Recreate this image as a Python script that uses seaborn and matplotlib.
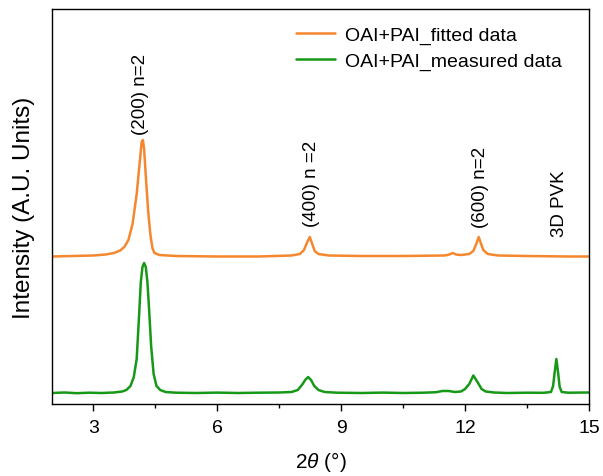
import numpy as np
import pandas as pd
import seaborn as sns
import matplotlib
matplotlib.use("Agg")
import matplotlib.pyplot as plt

# ---- data (intensity in arbitrary units) ----
fit_x = [2.0, 2.5, 3.0, 3.3, 3.5, 3.65, 3.75, 3.85, 3.95, 4.05, 4.12, 4.17, 4.20,
         4.23, 4.28, 4.33, 4.38, 4.43, 4.48, 4.6, 5.0, 6.0, 7.0, 7.8, 8.0, 8.1,
         8.18, 8.24, 8.30, 8.36, 8.45, 8.7, 9.5, 10.5, 11.5, 11.62, 11.70, 11.78,
         11.9, 12.1, 12.2, 12.27, 12.33, 12.38, 12.44, 12.55, 12.8, 13.5, 14.5, 15.0]
fit_y = [147.5, 148, 148.5, 149.5, 151, 153.5, 157, 164, 180, 210, 240, 262, 264,
         255, 222, 192, 170, 156, 151, 149, 148, 147.5, 147.5, 148.5, 150, 154,
         162, 167, 160, 153, 150, 148.5, 148, 148, 148.5, 149.5, 151, 149.5,
         149, 150, 153, 160, 167, 161, 154, 150, 148.5, 148, 147.5, 147.5]

meas_x = [2.0, 2.3, 2.6, 2.9, 3.2, 3.5, 3.7, 3.8, 3.9, 3.98, 4.05, 4.11, 4.15,
          4.19, 4.23, 4.27, 4.31, 4.35, 4.40, 4.46, 4.53, 4.62, 4.75, 5.0, 5.5,
          6.0, 6.5, 7.0, 7.5, 7.8, 7.95, 8.05, 8.13, 8.2, 8.27, 8.35, 8.45, 8.6,
          8.9, 9.5, 10.0, 10.5, 11.0, 11.3, 11.45, 11.6, 11.75, 11.9, 12.0, 12.1,
          12.2, 12.3, 12.4, 12.5, 12.7, 13.0, 13.5, 13.9, 14.08, 14.13, 14.17,
          14.21, 14.25, 14.29, 14.34, 14.5, 15.0]
meas_y = [11, 11.5, 10.8, 11.3, 11, 11.5, 12.5, 14, 18, 27, 45, 90, 122,
          137, 141, 137, 122, 95, 58, 30, 18, 14, 12, 11.3, 11,
          11.4, 11, 11.3, 11.5, 12, 14, 19, 24, 27, 24, 18, 14, 12,
          11.3, 11, 11.4, 11, 11.3, 11.8, 13, 13, 12, 12.5, 15, 20,
          28.5, 22, 15, 12.5, 11.5, 11, 11.3, 11.2, 12, 18, 32,
          45, 32, 17, 12, 11.3, 11.5]

series_labels = ["OAI+PAI_fitted data", "OAI+PAI_measured data"]
peak_labels = ["(200) n=2", "(400) n =2", "(600) n=2", "3D PVK"]
peak_label_x = [4.15, 8.29, 12.38, 14.28]
peak_label_y = [270, 178, 177, 168]
x_ticks = [3, 6, 9, 12, 15]

# ---- style ----
sns.set_theme(style="ticks")
plt.rcParams["font.family"] = ["Liberation Sans", "DejaVu Sans"]
plt.rcParams["mathtext.fontset"] = "custom"
plt.rcParams["mathtext.it"] = "Liberation Sans:italic"
plt.rcParams["mathtext.rm"] = "Liberation Sans"
plt.rcParams["text.color"] = "black"
plt.rcParams["axes.labelcolor"] = "black"
plt.rcParams["xtick.color"] = "black"
plt.rcParams["ytick.color"] = "black"

orange = "#F5872E"
green = "#179817"

fig = plt.figure(figsize=(6.03, 4.77), dpi=100)
ax = fig.add_axes([52 / 603, 1 - 405 / 477, 537 / 603, 395 / 477])

df_fit = pd.DataFrame({"x": fit_x, "y": fit_y})
df_meas = pd.DataFrame({"x": meas_x, "y": meas_y})
sns.lineplot(data=df_fit, x="x", y="y", ax=ax, color=orange, lw=1.8,
             label=series_labels[0], sort=True)
sns.lineplot(data=df_meas, x="x", y="y", ax=ax, color=green, lw=1.8,
             label=series_labels[1], sort=True)

ax.set_xlim(2, 15)
ax.set_ylim(0, 395)
ax.set_xticks(x_ticks)
ax.set_xticklabels([str(t) for t in x_ticks], fontsize=14, color="black")
ax.set_xticks([4.5, 7.5, 10.5, 13.5], minor=True)
ax.tick_params(axis="x", which="major", direction="out", length=5, width=1,
               color="black", pad=6, labelcolor="black")
ax.tick_params(axis="x", which="minor", direction="out", length=3, width=1,
               color="black")
ax.set_yticks([])
for sp in ax.spines.values():
    sp.set_color("black")
    sp.set_linewidth(1.0)
    sp.set_visible(True)

ax.set_xlabel(r"$\mathit{2\theta}$ (°)", fontsize=15, labelpad=9, color="black")
ax.set_ylabel("Intensity (A.U. Units)", fontsize=17.5, labelpad=12, color="black")

for lab, px, py in zip(peak_labels, peak_label_x, peak_label_y):
    ax.text(px, py, lab, rotation=90, ha="center", va="bottom", fontsize=13.5,
            color="black")

leg = ax.legend(loc="upper left", bbox_to_anchor=(0.454, 0.956), frameon=False,
                fontsize=14, handlelength=2.0, handletextpad=0.55,
                labelspacing=0.4, borderpad=0, borderaxespad=0)
for t in leg.get_texts():
    t.set_color("black")

fig.savefig("out.png", dpi=100)
